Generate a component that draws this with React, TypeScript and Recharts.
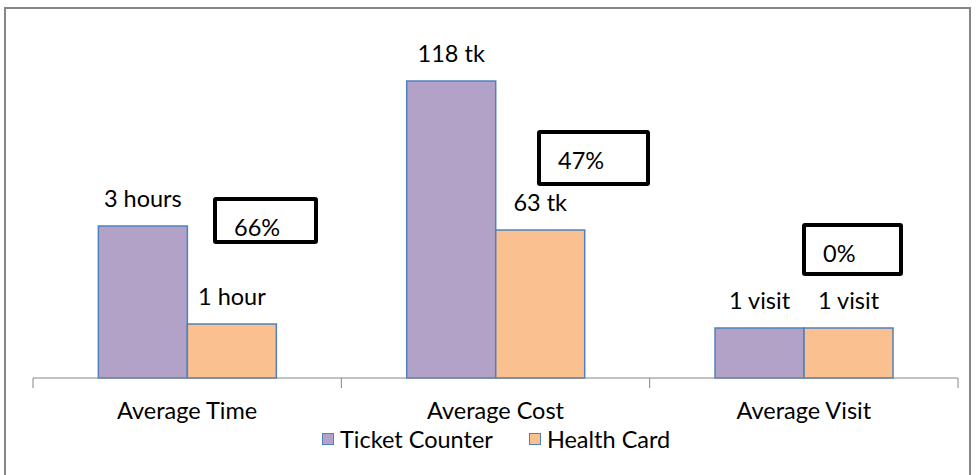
import React from 'react'
import { BarChart, Bar, XAxis, YAxis, Legend, LabelList } from 'recharts'

const categories = ['Average Time', 'Average Cost', 'Average Visit']
const ticketCounter = [64.5, 118, 26.9]
const healthCard = [28.3, 63, 26.9]
const ticketLabels = ['3 hours', '118 tk', '1 visit']
const healthLabels = ['1 hour', '63 tk', '1 visit']
const reductionLabels = ['66%', '47%', '0%']

const data = categories.map((category, i) => ({
  category,
  ticket: ticketCounter[i],
  health: healthCard[i],
  ticketLabel: ticketLabels[i],
  healthLabel: healthLabels[i],
}))

const W = 977
const H = 475
const PLOT_LEFT = 33
const PLOT_RIGHT = 958
const AXIS_Y = 378
const BAND = (PLOT_RIGHT - PLOT_LEFT) / categories.length
const FONT = 'Lato, "Open Sans", sans-serif'
const FONT_SIZE = 23.5
const AXIS_GREY = '#868686'
const PURPLE = '#B2A2C7'
const ORANGE = '#FAC090'
const EDGE = '#4F81BD'

// callout boxes with the percentage reduction, one per category
const boxes = [
  { left: 213, top: 197, width: 105, height: 47 },
  { left: 537, top: 130, width: 113, height: 56 },
  { left: 802, top: 223, width: 101, height: 53 },
]

function CategoryTick(props: any) {
  const { x, payload } = props
  const index = payload?.index ?? props.index ?? 0
  const left = x - BAND / 2
  const right = x + BAND / 2
  return (
    <g>
      <line x1={left} x2={left} y1={AXIS_Y} y2={AXIS_Y + 10} stroke={AXIS_GREY} />
      {index === categories.length - 1 && (
        <line x1={right} x2={right} y1={AXIS_Y} y2={AXIS_Y + 10} stroke={AXIS_GREY} />
      )}
      <text x={x} y={AXIS_Y + 41} textAnchor="middle" fontSize={FONT_SIZE} fontFamily={FONT} fill="#000">
        {payload.value}
      </text>
    </g>
  )
}

function LegendContent() {
  const items = [
    { name: 'Ticket Counter', color: PURPLE },
    { name: 'Health Card', color: ORANGE },
  ]
  return (
    <div style={{ display: 'flex', alignItems: 'center', fontFamily: FONT, fontSize: FONT_SIZE, color: '#000' }}>
      {items.map((item, i) => (
        <div key={item.name} style={{ display: 'flex', alignItems: 'center', marginLeft: i === 0 ? 0 : 36 }}>
          <span
            style={{
              display: 'inline-block',
              width: 10,
              height: 10,
              background: item.color,
              border: `1.5px solid ${EDGE}`,
              marginRight: 6,
            }}
          />
          <span style={{ lineHeight: '28px', whiteSpace: 'nowrap' }}>{item.name}</span>
        </div>
      ))}
    </div>
  )
}

export default function App() {
  return (
    <div style={{ position: 'absolute', left: 0, top: 0, width: W, height: H, background: '#fff', overflow: 'hidden' }}>
      <div
        style={{
          position: 'absolute',
          left: 4,
          top: 7,
          width: W - 10,
          height: H - 7,
          border: `2px solid ${AXIS_GREY}`,
          borderBottom: 'none',
          boxSizing: 'border-box',
        }}
      />
      <div style={{ position: 'absolute', left: 0, top: 0 }}>
        <BarChart
          width={W}
          height={H}
          data={data}
          margin={{ top: 21.5, right: W - PLOT_RIGHT, left: PLOT_LEFT, bottom: 0 }}
          barCategoryGap="21.2%"
          barGap={0}
        >
          <XAxis
            dataKey="category"
            height={H - AXIS_Y}
            axisLine={{ stroke: AXIS_GREY }}
            tickLine={false}
            interval={0}
            tick={<CategoryTick />}
          />
          <YAxis hide domain={[8.4, 140]} />
          <Legend
            layout="horizontal"
            verticalAlign="middle"
            align="center"
            wrapperStyle={{ left: 322, top: 425, width: 'auto' }}
            content={<LegendContent />}
          />
          <Bar dataKey="ticket" fill={PURPLE} stroke={EDGE} strokeWidth={1.5} isAnimationActive={false}>
            <LabelList dataKey="ticketLabel" position="top" offset={19} fontSize={FONT_SIZE} fontFamily={FONT} fill="#000" />
          </Bar>
          <Bar dataKey="health" fill={ORANGE} stroke={EDGE} strokeWidth={1.5} isAnimationActive={false}>
            <LabelList dataKey="healthLabel" position="top" offset={19} fontSize={FONT_SIZE} fontFamily={FONT} fill="#000" />
          </Bar>
        </BarChart>
      </div>
      {boxes.map((b, i) => (
        <div
          key={reductionLabels[i]}
          style={{
            position: 'absolute',
            left: b.left,
            top: b.top,
            width: b.width,
            height: b.height,
            border: '4.5px solid #000',
            borderRadius: 3,
            boxSizing: 'border-box',
            background: '#fff',
          }}
        >
          <span
            style={{
              position: 'absolute',
              left: 17,
              top: 12,
              fontFamily: FONT,
              fontSize: FONT_SIZE,
              lineHeight: '28px',
              color: '#000',
            }}
          >
            {reductionLabels[i]}
          </span>
        </div>
      ))}
    </div>
  )
}
